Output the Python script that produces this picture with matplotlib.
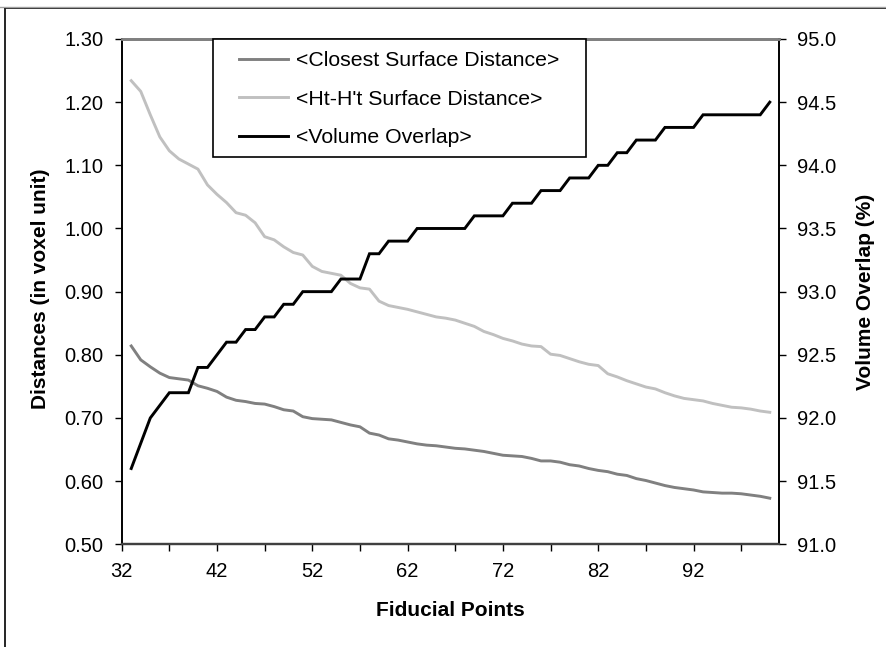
import matplotlib
matplotlib.use("Agg")
import matplotlib.pyplot as plt
from matplotlib.lines import Line2D
from matplotlib.patches import Rectangle

plt.rcParams['font.family'] = ['Liberation Sans', 'DejaVu Sans']

fiducial_points = list(range(33, 101))

closest_surface = [
    0.814, 0.792, 0.781, 0.771, 0.764, 0.762, 0.760, 0.751, 0.747, 0.742,
    0.733, 0.728, 0.726, 0.723, 0.722, 0.718, 0.713, 0.711, 0.702, 0.699,
    0.698, 0.697, 0.693, 0.689, 0.686, 0.676, 0.673, 0.667, 0.665, 0.662,
    0.659, 0.657, 0.656, 0.654, 0.652, 0.651, 0.649, 0.647, 0.644, 0.641,
    0.640, 0.639, 0.636, 0.632, 0.632, 0.630, 0.626, 0.624, 0.620, 0.617,
    0.615, 0.611, 0.609, 0.604, 0.601, 0.597, 0.593, 0.590, 0.588, 0.586,
    0.583, 0.582, 0.581, 0.581, 0.580, 0.578, 0.576, 0.573]

hthprime_surface = [
    1.234, 1.217, 1.180, 1.145, 1.123, 1.110, 1.102, 1.094, 1.069, 1.054,
    1.041, 1.025, 1.021, 1.009, 0.987, 0.982, 0.971, 0.962, 0.958, 0.940,
    0.932, 0.929, 0.926, 0.913, 0.906, 0.904, 0.885, 0.878, 0.875, 0.872,
    0.868, 0.864, 0.860, 0.858, 0.855, 0.850, 0.845, 0.837, 0.832, 0.826,
    0.822, 0.817, 0.814, 0.813, 0.801, 0.799, 0.794, 0.789, 0.785, 0.783,
    0.770, 0.765, 0.759, 0.754, 0.749, 0.746, 0.740, 0.735, 0.731, 0.729,
    0.727, 0.723, 0.720, 0.717, 0.716, 0.714, 0.711, 0.709]

volume_overlap = [
    91.6, 91.8, 92.0, 92.1, 92.2, 92.2, 92.2, 92.4, 92.4, 92.5,
    92.6, 92.6, 92.7, 92.7, 92.8, 92.8, 92.9, 92.9, 93.0, 93.0,
    93.0, 93.0, 93.1, 93.1, 93.1, 93.3, 93.3, 93.4, 93.4, 93.4,
    93.5, 93.5, 93.5, 93.5, 93.5, 93.5, 93.6, 93.6, 93.6, 93.6,
    93.7, 93.7, 93.7, 93.8, 93.8, 93.8, 93.9, 93.9, 93.9, 94.0,
    94.0, 94.1, 94.1, 94.2, 94.2, 94.2, 94.3, 94.3, 94.3, 94.3,
    94.4, 94.4, 94.4, 94.4, 94.4, 94.4, 94.4, 94.5]

series_labels = ['<Closest Surface Distance>', "<Ht-H't Surface Distance>", '<Volume Overlap>']
x_ticks = [32, 42, 52, 62, 72, 82, 92]
left_ticks = [0.50, 0.60, 0.70, 0.80, 0.90, 1.00, 1.10, 1.20, 1.30]
right_ticks = [91.0, 91.5, 92.0, 92.5, 93.0, 93.5, 94.0, 94.5, 95.0]

W, H = 887, 647
fig = plt.figure(figsize=(W / 100, H / 100), dpi=100)

def fx(px):
    return px / W

def fy(py):
    return 1 - py / H

L, R, T, B = 121.7, 779.3, 39.0, 544.3
ax = fig.add_axes([fx(L), fy(B), fx(R) - fx(L), fy(T) - fy(B)])
ax2 = ax.twinx()

c_dark = '#808080'
c_light = '#C0C0C0'
lw = 2.1
l1, = ax.plot(fiducial_points, closest_surface, color=c_dark, lw=lw, solid_joinstyle='round')
l2, = ax.plot(fiducial_points, hthprime_surface, color=c_light, lw=lw, solid_joinstyle='round')
l3, = ax2.plot(fiducial_points, volume_overlap, color='black', lw=lw, solid_joinstyle='miter')

ax.set_xlim(32, 101)
ax.set_ylim(0.50, 1.30)
ax2.set_ylim(91.0, 95.0)

ax.set_xticks(x_ticks)
ax.set_xticks(list(range(37, 101, 5)), minor=True)
ax.set_yticks(left_ticks)
ax.set_yticklabels([f'{v:.2f}' for v in left_ticks])
ax2.set_yticks(right_ticks)
ax2.set_yticklabels([f'{v:.1f}' for v in right_ticks])

fs = 14.5
for a in (ax, ax2):
    a.tick_params(axis='both', which='both', direction='out', length=5, width=1,
                  color='black', labelsize=fs, pad=8)
ax.tick_params(axis='x', which='minor', length=5, width=1)

for a in (ax, ax2):
    a.spines['top'].set_color('#808080')
    a.spines['top'].set_linewidth(2)
    a.spines['bottom'].set_color('#404040')
    a.spines['bottom'].set_linewidth(1.6)
    a.spines['left'].set_color('black')
    a.spines['left'].set_linewidth(1.2)
    a.spines['right'].set_color('black')
    a.spines['right'].set_linewidth(1.2)

# axis titles
fig.text(fx(450.5), fy(611), 'Fiducial Points', ha='center', va='center',
         fontsize=15, fontweight='bold')
fig.text(fx(41), fy(289), 'Distances (in voxel unit)', ha='center', va='center',
         rotation=90, fontsize=15, fontweight='bold')
fig.text(fx(866), fy(291.6), 'Volume Overlap (%)', ha='center', va='center',
         rotation=90, fontsize=15, fontweight='bold')

# legend box
box = Rectangle((fx(213), fy(157)), fx(586) - fx(213), fy(39) - fy(157),
                transform=fig.transFigure, facecolor='white', edgecolor='black',
                linewidth=1.2, zorder=5)
ax2.add_artist(box)
box.set_clip_on(False)
leg = ax2.legend([l1, l2, l3], series_labels, loc='upper left',
                 bbox_to_anchor=(fx(239), fy(51)), bbox_transform=fig.transFigure,
                 frameon=False, fontsize=15.3, handlelength=2.3, handletextpad=0.4,
                 labelspacing=0.92, borderpad=0, borderaxespad=0)
leg.set_zorder(6)

# outer chart frame
fig.add_artist(Line2D([fx(5), fx(887)], [fy(8), fy(8)], transform=fig.transFigure,
                      color='black', lw=1.2))
fig.add_artist(Line2D([fx(5), fx(5)], [fy(8), fy(647)], transform=fig.transFigure,
                      color='black', lw=1.2))
fig.add_artist(Line2D([0, 1], [fy(6.5), fy(6.5)], transform=fig.transFigure,
                      color='#a0a0a0', lw=1))

fig.savefig('out.png', dpi=100)
